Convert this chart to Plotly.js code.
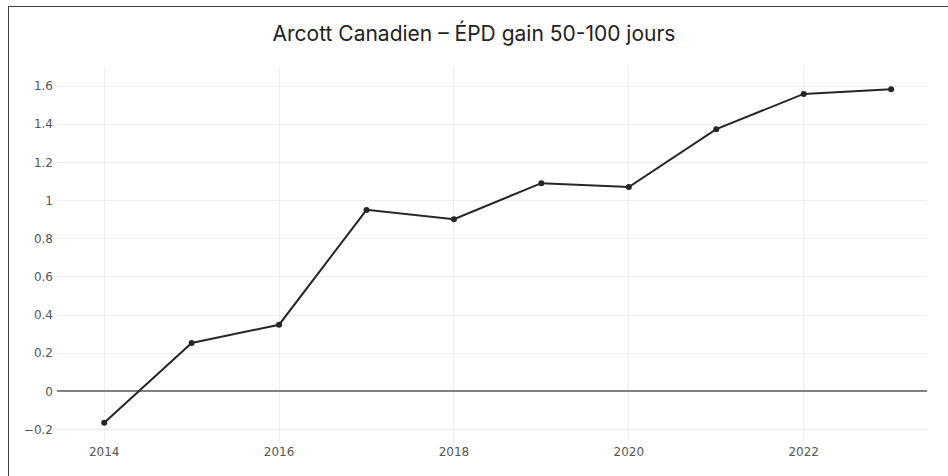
<!DOCTYPE html>
<html>
<head>
<meta charset="utf-8">
<script src="https://cdn.plot.ly/plotly-3.0.1.min.js"></script>
<style>
html,body{margin:0;padding:0;background:#fff;overflow:hidden;}
#chart{position:absolute;left:0;top:0;width:948px;height:476px;}
#frame{position:absolute;left:8px;top:6px;width:960px;height:490px;border-left:1.5px solid #444;border-top:1.5px solid #444;pointer-events:none;}
</style>
</head>
<body>
<div id="chart"></div>
<div id="frame"></div>
<script>
const years = [2014, 2015, 2016, 2017, 2018, 2019, 2020, 2021, 2022, 2023];
const epdGain = [-0.165, 0.253, 0.349, 0.951, 0.902, 1.091, 1.071, 1.374, 1.559, 1.584];
const titleText = "Arcott Canadien – ÉPD gain 50-100 jours";

const trace = {
  x: years,
  y: epdGain,
  type: 'scatter',
  mode: 'lines+markers',
  line: {color: '#262626', width: 2},
  marker: {color: '#262626', size: 6},
  hoverinfo: 'x+y'
};

const layout = {
  width: 948,
  height: 476,
  margin: {l: 57, r: 21, t: 67, b: 33},
  paper_bgcolor: '#fff',
  plot_bgcolor: '#fff',
  showlegend: false,
  title: {
    text: titleText,
    x: 0.5,
    xanchor: 'center',
    y: 0.93,
    yanchor: 'middle',
    font: {family: 'Inter, "Open Sans", sans-serif', size: 21, color: '#222'}
  },
  xaxis: {
    range: [2013.46, 2023.41],
    tickvals: [2014, 2016, 2018, 2020, 2022],
    showgrid: true,
    gridcolor: '#eeeeee',
    gridwidth: 1,
    zeroline: false,
    showline: false,
    ticks: '',
    tickfont: {family: '"DejaVu Sans", Verdana, sans-serif', size: 12, color: '#555'}
  },
  yaxis: {
    range: [-0.271, 1.70],
    tickvals: [-0.2, 0, 0.2, 0.4, 0.6, 0.8, 1, 1.2, 1.4, 1.6],
    ticktext: ['−0.2', '0', '0.2', '0.4', '0.6', '0.8', '1', '1.2', '1.4', '1.6'],
    showgrid: true,
    gridcolor: '#eeeeee',
    gridwidth: 1,
    zeroline: true,
    zerolinecolor: '#808080',
    zerolinewidth: 2,
    showline: false,
    ticks: '',
    ticklabelstandoff: 3,
    tickfont: {family: '"DejaVu Sans", Verdana, sans-serif', size: 12, color: '#555'}
  }
};

Plotly.newPlot('chart', [trace], layout, {displayModeBar: false, staticPlot: true});
</script>
</body>
</html>
